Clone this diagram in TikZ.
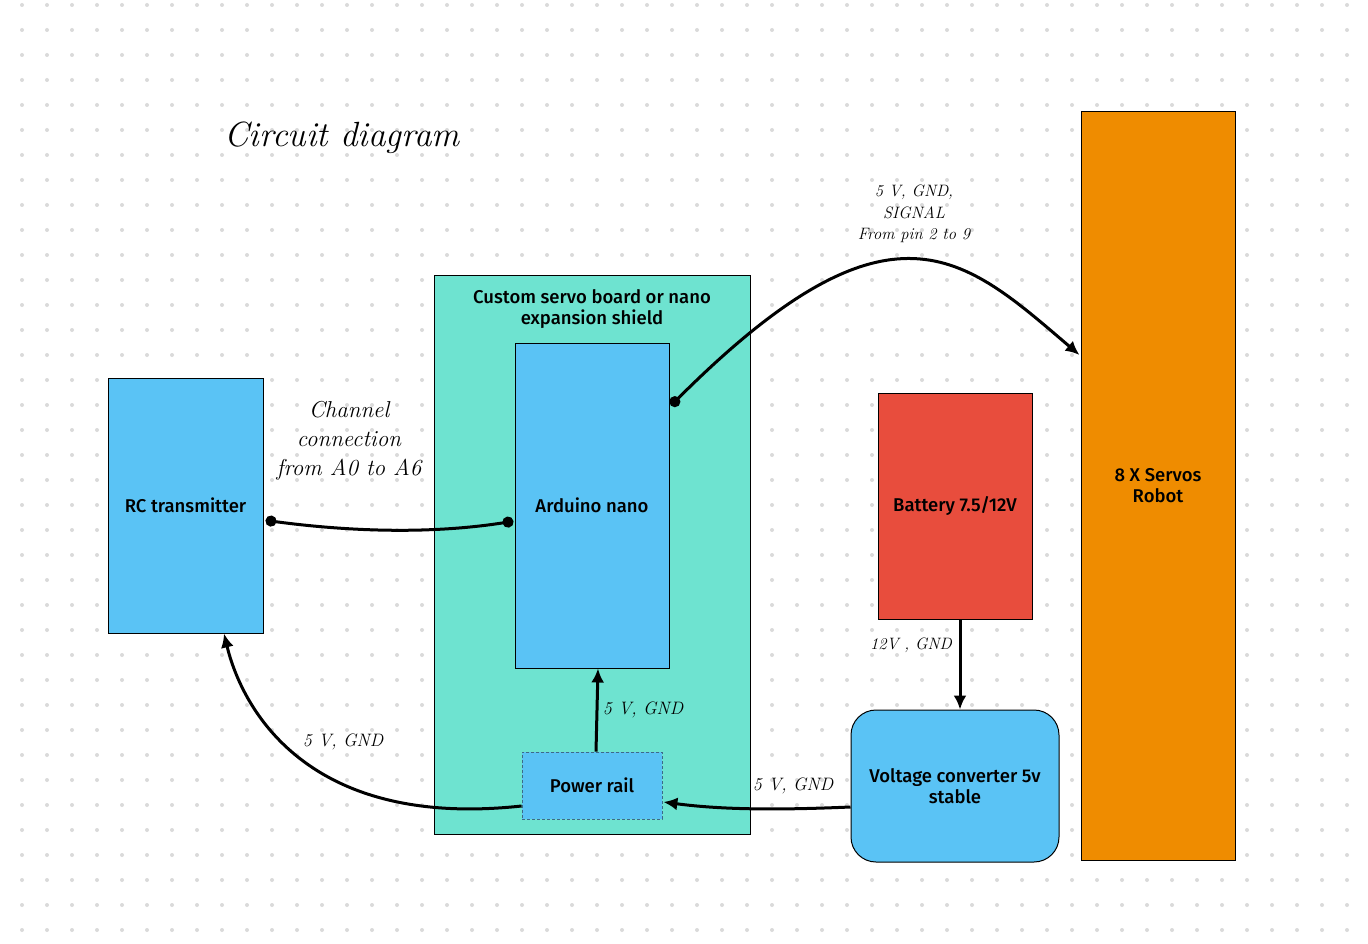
\documentclass[tikz,border=0pt]{standalone}
\usepackage{fontspec}
\newfontfamily\boxfont{Fira Sans}[UprightFont={* Medium}]
\usepackage{tikz}
\usetikzlibrary{arrows.meta,positioning}

\definecolor{bluebox}{HTML}{5AC3F5}
\definecolor{tealbox}{HTML}{6EE3D0}
\definecolor{redbox}{HTML}{E84D3D}
\definecolor{orangebox}{HTML}{EF8C00}
\definecolor{railedge}{HTML}{3D6A88}
\definecolor{griddot}{HTML}{DADADA}

\begin{document}
\begin{tikzpicture}[x=1pt,y=-1pt,
	>={Latex[length=14pt,width=13pt]},
	box/.style={draw=black,line width=1pt,font=\boxfont\fontsize{18.5}{21}\selectfont,align=center,inner sep=0pt},
	hand/.style={font=\itshape\fontsize{23}{29}\selectfont,align=center,inner sep=0pt},
	wlabel/.style={font=\itshape\fontsize{18}{21}\selectfont,align=center,inner sep=0pt},
	wire/.style={line width=3pt}]
	\useasboundingbox (0,0) rectangle (1368,944);
	% dotted canvas
	\foreach \i in {0,...,53}{
		\foreach \j in {0,...,37}{
			\fill[griddot] (22+25*\i,5+25*\j) circle (2pt);
		}
	}
	% boxes
	\node[box,fill=bluebox,minimum width=155pt,minimum height=255pt](rc) at (185.5,505.5){RC transmitter};
	\node[box,fill=tealbox,minimum width=316pt,minimum height=559pt](shield) at (592,554.5){};
	\node[box,draw=none,below=15pt of shield.north](shieldlbl){Custom servo board or nano\\expansion shield};
	\node[box,fill=bluebox,minimum width=154pt,minimum height=325pt](ard) at (592,505.5){Arduino nano};
	\node[box,fill=bluebox,draw=railedge,densely dashed,line width=0.8pt,minimum width=140pt,minimum height=67pt](rail) at (592,785.5){Power rail};
	\node[box,fill=redbox,minimum width=154pt,minimum height=226pt](bat) at (955,506){Battery 7.5/12V};
	\node[box,fill=bluebox,rounded corners=25pt,minimum width=208pt,minimum height=152pt](conv) at (955,786){Voltage converter 5v\\stable};
	\node[box,fill=orangebox,minimum width=154pt,minimum height=748pt](servo) at (1158,486){8 X Servos\\Robot};
	% texts
	\node[hand,font=\itshape\fontsize{35}{40}\selectfont](title) at (342,138){Circuit diagram};
	\node[hand](chanlbl) at (349,441){Channel\\connection\\from A0 to A6};
	\node[wlabel,font=\itshape\fontsize{16.5}{21.5}\selectfont](siglbl) at (914,214){5 V, GND,\\SIGNAL\\From pin 2 to 9};
	\node[wlabel,font=\itshape\fontsize{16.5}{21}\selectfont](batlbl) at (911,645){12V , GND};
	\node[wlabel](raillbl) at (643,710){5 V, GND};
	\node[wlabel](rclbl) at (343,742){5 V, GND};
	\node[wlabel](convlbl) at (793,786){5 V, GND};
	% wires
	\draw[wire,shorten <=-5pt,shorten >=-5pt,{Circle[length=11pt]}-{Circle[length=11pt]}]([shift={(7,15.5)}]rc.east) .. controls +(90,12) and +(-70,11) .. ([shift={(-6,16.5)}]ard.west);
	\draw[wire,shorten <=-5pt,{Circle[length=11pt]}->]([shift={(5,-103.5)}]ard.east) .. controls +(217,-217) and +(-116,-99) .. ([shift={(-1,-131)}]servo.west);
	\draw[wire,->]([xshift=5pt]bat.south) -- ([xshift=5pt]conv.north);
	\draw[wire,->]([yshift=-21pt]conv.west) .. controls +(-70,3) and +(60,8) .. ([shift={(1,16.5)}]rail.east);
	\draw[wire,->]([xshift=4pt]rail.north) -- ([xshift=6pt]ard.south);
	\draw[wire,->]([yshift=-20.5pt]rail.west) .. controls +(-222,24) and +(16,67) .. ([xshift=38.5pt]rc.south);
\end{tikzpicture}
\end{document}
